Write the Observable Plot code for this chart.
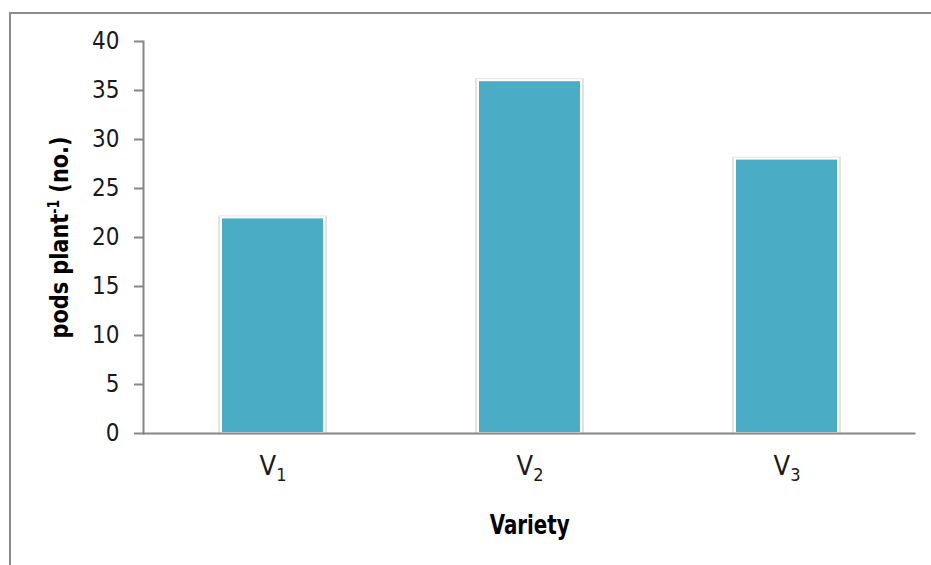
<!DOCTYPE html>
<html>
<head>
<meta charset="utf-8">
<script src="https://cdn.jsdelivr.net/npm/d3@7"></script>
<script src="https://cdn.jsdelivr.net/npm/@observablehq/plot@0.6"></script>
<style>
  html, body { margin: 0; padding: 0; background: #fff; }
  #wrap { position: relative; width: 931px; height: 565px; overflow: hidden; }
  #border { position: absolute; left: 9px; top: 12px; width: 940px; height: 600px;
            border-left: 2px solid #8c8c8c; border-top: 2px solid #8c8c8c; box-sizing: border-box; }
  #chart { position: absolute; left: 0; top: 0; }
</style>
</head>
<body>
<div id="wrap"><div id="border"></div><div id="chart"></div></div>
<script>
const categories = ["V1", "V2", "V3"];
const values = [22, 36, 28];
const yTicks = [0, 5, 10, 15, 20, 25, 30, 35, 40];
const yLabel = "pods plant-1 (no.)";
const xLabel = "Variety";

const data = categories.map((c, i) => ({variety: c, value: values[i]}));
const font = "'Liberation Sans Narrow', 'Arial Narrow', 'DejaVu Sans Condensed', sans-serif";

const chart = Plot.plot({
  width: 931,
  height: 565,
  marginLeft: 143,
  marginRight: 15.5,
  marginTop: 41,
  marginBottom: 132,
  style: {fontFamily: font, background: "transparent", color: "#1a1a1a"},
  x: {domain: categories, paddingInner: 0.6, paddingOuter: 0.3, axis: null},
  y: {domain: [0, 40], axis: null},
  marks: [
    Plot.barY(data, {x: "variety", y: "value", fill: "#e4e4e4", insetLeft: -3, insetRight: -3, insetTop: -2}),
    Plot.barY(data, {x: "variety", y: "value", fill: "#4BACC6", stroke: "#ffffff", strokeWidth: 2}),
    Plot.ruleY([0], {stroke: "#868686", strokeWidth: 2}),
    Plot.frame({anchor: "left", stroke: "#868686", strokeWidth: 2}),
    Plot.axisY({ticks: yTicks, tickSize: 9, tickPadding: 15, stroke: "#868686", strokeWidth: 2,
                fontSize: 24, fill: "#1a1a1a", label: null}),
    Plot.axisX({tickSize: 0, tickPadding: 22, fontSize: 27, fill: "#1a1a1a", label: null,
                className: "xticks"}),
    Plot.text([yLabel], {frameAnchor: "left", textAnchor: "middle", lineAnchor: "middle", rotate: -90,
                         dx: -84, fontSize: 25, fontWeight: "bold", fill: "#000", className: "ylab"}),
    Plot.text([xLabel], {frameAnchor: "bottom", textAnchor: "middle", lineAnchor: "middle", dy: 92,
                         fontSize: 26, fontWeight: "bold", fill: "#000", className: "xlab"})
  ]
});
document.getElementById("chart").appendChild(chart);

// subscripts on the x tick labels (V1 -> V with subscript 1)
const NS = "http://www.w3.org/2000/svg";
chart.querySelectorAll(".xticks text").forEach(t => {
  const s = t.textContent;
  const m = s.match(/^([A-Za-z]+)(\d+)$/);
  if (!m) return;
  t.textContent = m[1];
  const sub = document.createElementNS(NS, "tspan");
  sub.setAttribute("font-size", "18");
  sub.setAttribute("dy", "6");
  sub.textContent = m[2];
  t.appendChild(sub);
});
// superscript on the y label
chart.querySelectorAll(".ylab text").forEach(t => {
  const s = t.textContent;
  const m = s.match(/^(.*?)(-1)(.*)$/);
  if (!m) return;
  t.textContent = "";
  const a = document.createElementNS(NS, "tspan"); a.textContent = m[1];
  const b = document.createElementNS(NS, "tspan"); b.textContent = m[2];
  b.setAttribute("font-size", "15"); b.setAttribute("dy", "-9");
  const c = document.createElementNS(NS, "tspan"); c.textContent = m[3];
  c.setAttribute("dy", "9");
  t.append(a, b, c);
  t.setAttribute("textLength", "202");
  t.setAttribute("lengthAdjust", "spacingAndGlyphs");
});
// condense the x title to the narrow width of the original
chart.querySelectorAll(".xlab text").forEach(t => {
  t.setAttribute("textLength", "80");
  t.setAttribute("lengthAdjust", "spacingAndGlyphs");
});
</script>
</body>
</html>
